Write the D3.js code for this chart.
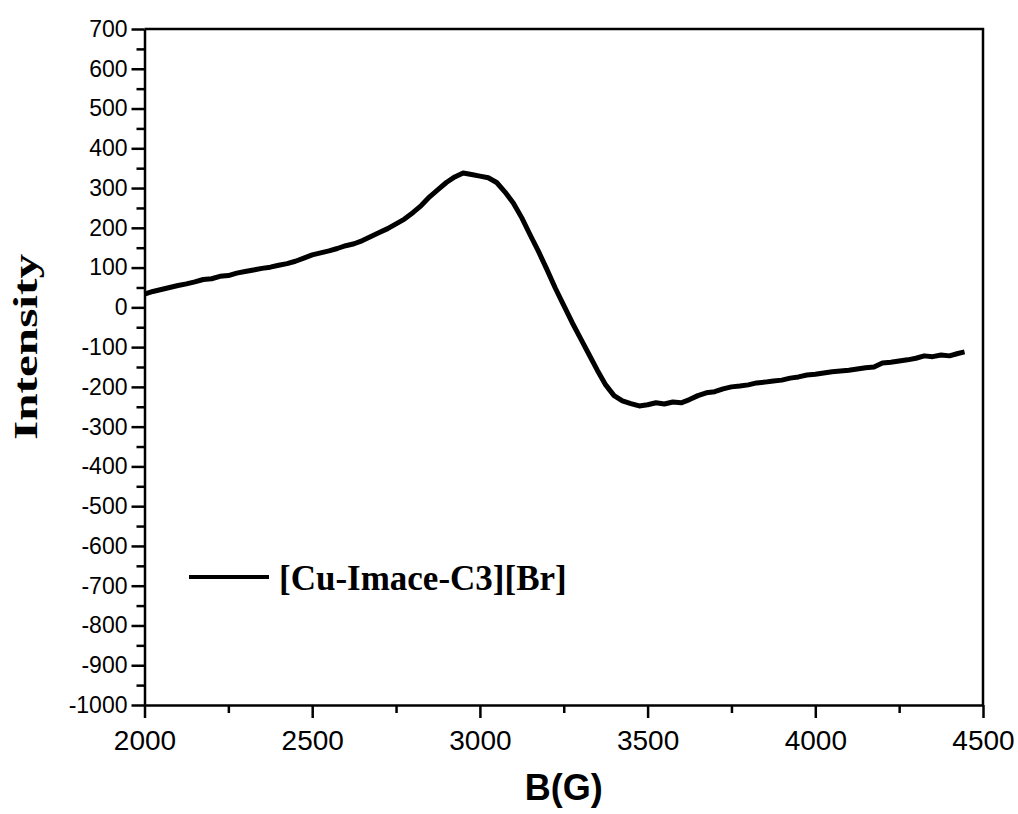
<!DOCTYPE html>
<html lang="en">
<head>
    <meta charset="UTF-8">
    <title>EPR spectrum</title>
    <script src="https://d3js.org/d3.v7.min.js"></script>
    <style>
        body { margin: 0; background: #fff; }
        .tick text { font-family: 'Liberation Sans', Arial, sans-serif; fill: #000; }
    </style>
</head>
<body>
<script>
    const width = 1018;
    const height = 814;
    const margin = {left: 144.5, right: 35, top: 29, bottom: 109};

    // field (G) and intensity
    const field = [2000, 2025, 2050, 2075, 2100, 2125, 2150, 2175, 2200, 2225, 2250, 2275, 2300, 2325, 2350,
        2375, 2400, 2425, 2450, 2475, 2500, 2525, 2550, 2575, 2600, 2625, 2650, 2675, 2700, 2725, 2750, 2775,
        2800, 2825, 2850, 2875, 2900, 2925, 2950, 2975, 3000, 3025, 3050, 3075, 3100, 3125, 3150, 3175, 3200,
        3225, 3250, 3275, 3300, 3325, 3350, 3375, 3400, 3425, 3450, 3475, 3500, 3525, 3550, 3575, 3600, 3625,
        3650, 3675, 3700, 3725, 3750, 3775, 3800, 3825, 3850, 3875, 3900, 3925, 3950, 3975, 4000, 4025, 4050,
        4075, 4100, 4125, 4150, 4175, 4200, 4225, 4250, 4275, 4300, 4325, 4350, 4375, 4400, 4425, 4445];
    const intensity = [33, 40, 45, 50, 55, 59, 64, 70, 72, 78, 80, 86, 90, 94, 98,
        101, 106, 110, 116, 124, 132, 137, 142, 148, 155, 160, 168, 178, 188, 198, 210, 222,
        238, 256, 278, 296, 314, 328, 338, 334, 330, 326, 314, 290, 262, 225, 182, 140, 95,
        48, 5, -38, -78, -118, -158, -195, -222, -235, -242, -248, -245, -240, -243, -238, -240, -232,
        -222, -215, -212, -205, -200, -198, -195, -190, -188, -185, -183, -178, -175, -170, -168, -165, -162,
        -160, -158, -155, -152, -150, -140, -138, -135, -132, -128, -122, -124, -120, -122, -116, -112];

    const xTicks = [2000, 2500, 3000, 3500, 4000, 4500];
    const yTicks = d3.range(-1000, 701, 100);
    const seriesLabel = '[Cu-Imace-C3][Br]';

    const data = field.map((b, i) => ({b: b, v: intensity[i]}));

    const svg = d3.select('body').append('svg').attr('width', width).attr('height', height);

    const x = d3.scaleLinear().domain([2000, 4500]).range([margin.left, width - margin.right]);
    const y = d3.scaleLinear().domain([-1000, 700]).range([height - margin.bottom, margin.top]);

    // minor ticks first
    svg.append('g')
        .attr('transform', `translate(0,${y(-1000)})`)
        .call(d3.axisBottom(x).tickValues(d3.range(2250, 4500, 500)).tickSize(8).tickFormat(''))
        .call(g => g.select('.domain').remove());
    svg.append('g')
        .attr('transform', `translate(${x(2000)},0)`)
        .call(d3.axisLeft(y).tickValues(d3.range(-950, 700, 100)).tickSize(8).tickFormat(''))
        .call(g => g.select('.domain').remove());

    const xAxis = svg.append('g')
        .attr('transform', `translate(0,${y(-1000)})`)
        .call(d3.axisBottom(x).tickValues(xTicks).tickFormat(d => String(d))
            .tickSize(13).tickSizeOuter(0).tickPadding(12));
    xAxis.selectAll('text').style('font-size', '28px');

    const yAxis = svg.append('g')
        .attr('transform', `translate(${x(2000)},0)`)
        .call(d3.axisLeft(y).tickValues(yTicks).tickFormat(d => String(d))
            .tickSize(13).tickSizeOuter(0).tickPadding(4));
    yAxis.selectAll('text').style('font-size', '23px');

    svg.selectAll('.tick line').attr('stroke', '#000').attr('stroke-width', 2.5);
    svg.selectAll('.domain').attr('stroke', '#000').attr('stroke-width', 2.5);

    // top and right frame
    svg.append('path')
        .attr('d', `M${x(2000)},${y(700)}H${x(4500)}V${y(-1000)}`)
        .attr('fill', 'none')
        .attr('stroke', '#000')
        .attr('stroke-width', 2.5);

    const line = d3.line().x(d => x(d.b)).y(d => y(d.v));

    svg.append('path')
        .datum(data)
        .attr('d', line)
        .attr('fill', 'none')
        .attr('stroke', '#000')
        .attr('stroke-width', 5)
        .attr('stroke-linejoin', 'round');

    // legend
    svg.append('line')
        .attr('x1', 189).attr('x2', 269)
        .attr('y1', 577).attr('y2', 577)
        .attr('stroke', '#000').attr('stroke-width', 4);
    svg.append('text')
        .attr('x', 279).attr('y', 590)
        .style('font-family', "'Liberation Serif', 'Times New Roman', serif")
        .style('font-weight', 'bold')
        .style('font-size', '35px')
        .text(seriesLabel);

    // axis titles
    svg.append('text')
        .attr('x', (x(2000) + x(4500)) / 2).attr('y', 800)
        .attr('text-anchor', 'middle')
        .style('font-family', "'Liberation Sans', Arial, sans-serif")
        .style('font-weight', 'bold')
        .style('font-size', '36px')
        .text('B(G)');

    svg.append('text')
        .attr('transform', `translate(37,347) rotate(-90)`)
        .attr('text-anchor', 'middle')
        .attr('textLength', 186)
        .attr('lengthAdjust', 'spacingAndGlyphs')
        .style('font-family', "'Liberation Serif', 'Times New Roman', serif")
        .style('font-weight', 'bold')
        .style('font-size', '34px')
        .text('Intensity');
</script>
</body>
</html>
